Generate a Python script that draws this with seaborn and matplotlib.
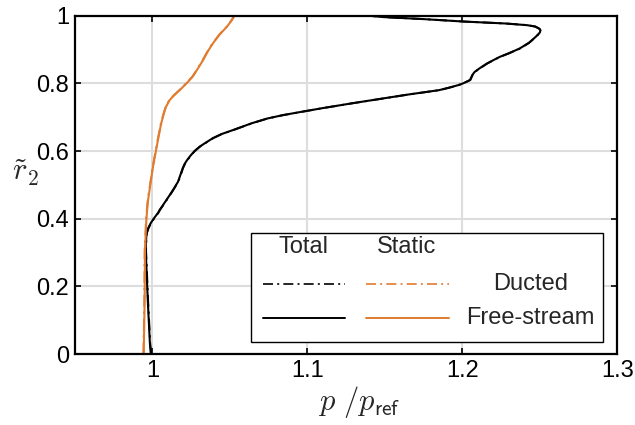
import numpy as np
import pandas as pd
import matplotlib
matplotlib.use("Agg")
import matplotlib.pyplot as plt
import seaborn as sns
from matplotlib.patches import Rectangle

# ---- data ----
r_total = [0.0, 0.03, 0.16, 0.307, 0.327, 0.357, 0.372, 0.386, 0.400, 0.417, 0.426, 0.440,
           0.455, 0.470, 0.485, 0.509, 0.535, 0.550, 0.562, 0.574, 0.586, 0.600, 0.613,
           0.625, 0.638, 0.650, 0.662, 0.682, 0.696, 0.706, 0.715, 0.727, 0.742, 0.767,
           0.780, 0.788, 0.795, 0.800, 0.810, 0.825, 0.834, 0.844, 0.859, 0.878, 0.889,
           0.903, 0.920, 0.938, 0.950, 0.957, 0.962, 0.968, 0.972, 0.977, 0.983, 0.990,
           0.996, 1.0]
p_total_free = [0.9990, 0.9984, 0.9970, 0.9957, 0.9958, 0.9962, 0.9973, 0.9988, 1.0008,
                1.0036, 1.0047, 1.0068, 1.0090, 1.0112, 1.0133, 1.0165, 1.0185, 1.0196,
                1.0208, 1.0225, 1.0245, 1.0272, 1.0305, 1.0345, 1.0390, 1.0445, 1.0520,
                1.0640, 1.0740, 1.0840, 1.0950, 1.1100, 1.1300, 1.1650, 1.1850, 1.1920,
                1.1975, 1.2005, 1.2050, 1.2065, 1.2080, 1.2110, 1.2160, 1.2240, 1.2300,
                1.2370, 1.2430, 1.2475, 1.2500, 1.2505, 1.2495, 1.2470, 1.2420, 1.2280,
                1.2000, 1.1750, 1.1490, 1.1400]
p_total_ducted = [v + 0.0002 for v in p_total_free]

r_static = [0.0, 0.16, 0.307, 0.337, 0.396, 0.426, 0.455, 0.554, 0.633, 0.680, 0.701,
            0.720, 0.731, 0.741, 0.750, 0.760, 0.770, 0.780, 0.800, 0.820, 0.845, 0.869,
            0.895, 0.918, 0.945, 0.967, 0.985, 1.0]
p_static_free = [0.9944, 0.9950, 0.9952, 0.9955, 0.9961, 0.9966, 0.9972, 1.0004, 1.0036,
                 1.0056, 1.0068, 1.0080, 1.0088, 1.0100, 1.0110, 1.0130, 1.0152, 1.0176,
                 1.0220, 1.0260, 1.0295, 1.0327, 1.0358, 1.0390, 1.0435, 1.0480, 1.0510,
                 1.0530]
p_static_ducted = [v - 0.0002 for v in p_static_free]

x_ticks = [1.0, 1.1, 1.2, 1.3]
x_ticklabels = ["1", "1.1", "1.2", "1.3"]
y_ticks = [0, 0.2, 0.4, 0.6, 0.8, 1.0]
y_ticklabels = ["0", "0.2", "0.4", "0.6", "0.8", "1"]

ORANGE = "#E07B30"
DASHDOT = (0, (6, 2.5, 1.2, 2.5))
FS = 17

sns.set_theme(style="white")
plt.rcParams["font.family"] = ["Liberation Sans", "DejaVu Sans"]
plt.rcParams["mathtext.fontset"] = "cm"

fig = plt.figure(figsize=(6.35, 4.25), dpi=100)
ax = fig.add_axes([0.118, 0.167, 0.854, 0.796])

df_t = pd.DataFrame({"r": r_total, "free": p_total_free, "ducted": p_total_ducted})
df_s = pd.DataFrame({"r": r_static, "free": p_static_free, "ducted": p_static_ducted})

sns.lineplot(data=df_t, x="ducted", y="r", sort=False, estimator=None, ax=ax,
             color="black", lw=1.4, linestyle=DASHDOT)
sns.lineplot(data=df_s, x="ducted", y="r", sort=False, estimator=None, ax=ax,
             color=ORANGE, lw=1.4, linestyle=DASHDOT)
sns.lineplot(data=df_t, x="free", y="r", sort=False, estimator=None, ax=ax,
             color="black", lw=1.5)
sns.lineplot(data=df_s, x="free", y="r", sort=False, estimator=None, ax=ax,
             color=ORANGE, lw=1.5)

ax.set_xlim(0.95, 1.3)
ax.set_ylim(0, 1)
ax.set_xticks(x_ticks)
ax.set_xticklabels(x_ticklabels)
ax.set_yticks(y_ticks)
ax.set_yticklabels(y_ticklabels)
ax.grid(True, color="#dddddd", lw=1.5)
ax.set_axisbelow(True)
for s in ax.spines.values():
    s.set_color("black")
    s.set_linewidth(1.6)
ax.tick_params(direction="in", length=4, width=1.2, labelsize=FS, colors="black",
               top=True, right=True, left=True, bottom=True, pad=4)

ax.set_xlabel(r"$p\ /p_{\mathsf{ref}}$", fontsize=22)
ax.xaxis.set_label_coords(0.524, -0.09)
ax.set_ylabel(r"$\tilde{r}_{\mathsf{2}}$", fontsize=22, rotation=0)
ax.yaxis.set_label_coords(-0.092, 0.49)

# ---- custom legend ----
tr = ax.transAxes
ax.add_patch(Rectangle((0.324, 0.036), 0.650, 0.321, transform=tr, facecolor="white",
                       edgecolor="black", lw=1.0, zorder=5))
ax.text(0.421, 0.317, "Total", transform=tr, ha="center", va="center", fontsize=FS, zorder=6)
ax.text(0.611, 0.317, "Static", transform=tr, ha="center", va="center", fontsize=FS, zorder=6)
ax.plot([0.346, 0.498], [0.207, 0.207], transform=tr, color="black", lw=1.2,
        linestyle=DASHDOT, zorder=6)
ax.plot([0.537, 0.689], [0.207, 0.207], transform=tr, color=ORANGE, lw=1.2,
        linestyle=DASHDOT, zorder=6)
ax.plot([0.346, 0.498], [0.107, 0.107], transform=tr, color="black", lw=1.4, zorder=6)
ax.plot([0.537, 0.689], [0.107, 0.107], transform=tr, color=ORANGE, lw=1.4, zorder=6)
ax.text(0.840, 0.207, "Ducted", transform=tr, ha="center", va="center", fontsize=FS, zorder=6)
ax.text(0.840, 0.107, "Free-stream", transform=tr, ha="center", va="center", fontsize=FS, zorder=6)

fig.savefig("out.png", dpi=100)
